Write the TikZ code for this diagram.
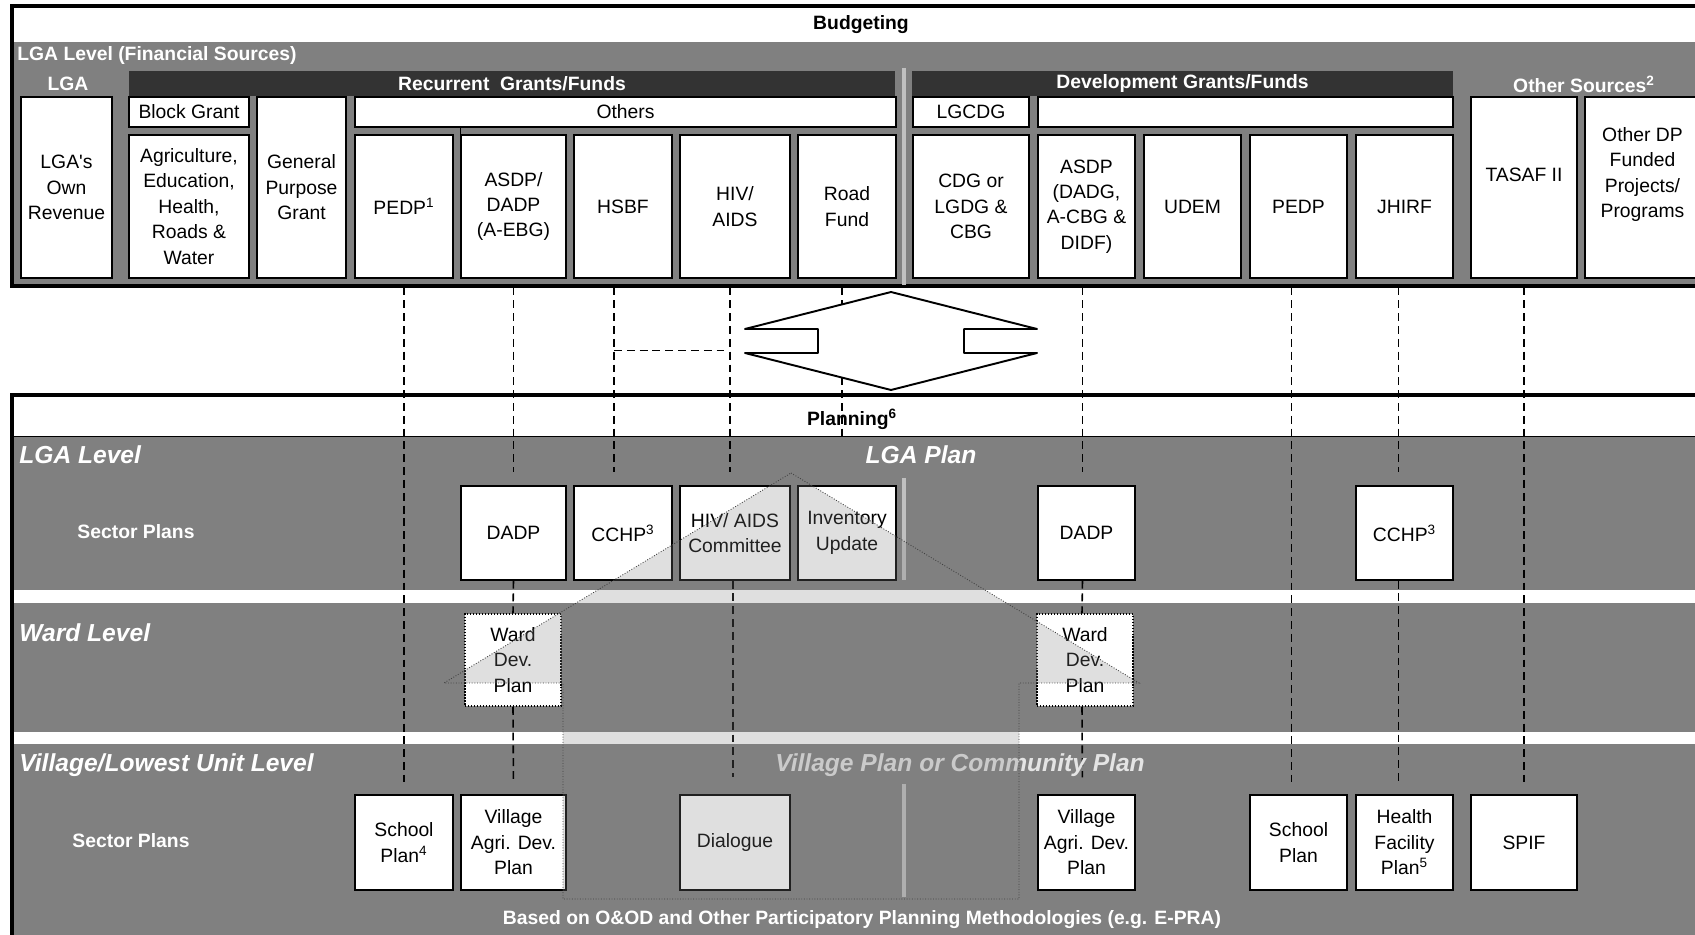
\documentclass[tikz,border=0pt]{standalone}
\usepackage{fontspec}
\setmainfont{Liberation Sans}
\usetikzlibrary{calc}

\definecolor{bandgray}{HTML}{808080}
\definecolor{bargray}{HTML}{333333}
\definecolor{sepgray}{HTML}{C0C0C0}
\definecolor{plangray}{HTML}{E4E4E4}

\pgfdeclarelayer{bg}
\pgfdeclarelayer{links}
\pgfsetlayers{bg,links,main}

\begin{document}
\begin{tikzpicture}[
    x=0.02cm, y=-0.02cm,
    % styles (pixel grid of the original chart)
    corners/.style args={#1/#2/#3/#4}{at={({(#1+#3)/2},{(#2+#4)/2})},
        minimum width={(#3-#1)*0.02cm}, minimum height={(#4-#2)*0.02cm}},
    frame_box/.style={draw, line width=1.8pt, inner sep=0pt},
    band/.style={fill=bandgray, inner sep=0pt},
    bar/.style={fill=bargray, inner sep=0pt, font=\fontsize{11}{13}\selectfont\bfseries, text=white},
    fund_box/.style={draw, line width=0.7pt, fill=white, inner sep=0pt, align=center, font=\fontsize{11}{14.5}\selectfont},
    ward_box/.style={fund_box, densely dotted, line width=1pt},
    box_txt/.style={inner sep=0pt, align=center, font=\fontsize{11}{14.5}\selectfont},
    hdr_lbl/.style={font=\fontsize{11}{13}\selectfont\bfseries, text=white, inner sep=0pt},
    lvl_lbl/.style={font=\fontsize{14}{16}\selectfont\bfseries\itshape, text=white, inner sep=0pt},
    link/.style={dash pattern=on 4.5pt off 2.8pt, line width=0.9pt},
    sep_line/.style={draw=sepgray, line width=2pt}
]
    \useasboundingbox (0,0) rectangle (1695,935);
    \clip (0,0) rectangle (1695,935);

    % --- Budgeting block ---
    \begin{pgfonlayer}{bg}
    \fill[white] (0,0) rectangle (1695,935);
    \node[band, corners=12/42/1720/286] (finband) {};
    \node[frame_box, corners=12/6/1720/286] (budget) {};
    \end{pgfonlayer}

    \node[hdr_lbl, text=black] (budgeting) at (861,25) {Budgeting};
    \node[hdr_lbl, anchor=west] (lgafin) at (17,56) {LGA Level (Financial Sources)};
    \node[hdr_lbl] (lgahdr) at (68,84) {LGA};
    \node[hdr_lbl] (othersrc) at (1584,84) {Other Sources\textsuperscript{2}};
    \node[bar, corners=129/71/895/96] (recbar) {Recurrent\ \ Grants/Funds};
    \node[bar, corners=912/71/1453/96] (devbar) {Development Grants/Funds};

    % --- Funding sources ---
    \node[fund_box, corners=21/97/112/278] (lgarev) {LGA\textquotesingle s\\Own\\Revenue};
    \node[fund_box, corners=129/97/249/127] (block) {Block Grant};
    \node[fund_box, corners=129/135/249/278] (sector) {Agriculture,\\Education,\\Health,\\Roads \&\\Water};
    \node[fund_box, corners=257/97/346/278] (gpg) {General\\Purpose\\Grant};
    \node[fund_box, corners=355/97/896/127] (others) {Others};
    \node[fund_box, corners=355/135/453/278] (pedpA) {PEDP\textsuperscript{1}};
    \node[fund_box, corners=461/135/566/278] (asdpA) {ASDP/\\DADP\\(A-EBG)};
    \node[fund_box, corners=574/135/672/278] (hsbf) {HSBF};
    \node[fund_box, corners=680/135/790/278] (hivA) {HIV/\\AIDS};
    \node[fund_box, corners=798/135/896/278] (road) {Road\\Fund};
    \node[fund_box, corners=913/97/1029/127] (lgcdg) {LGCDG};
    \node[fund_box, corners=1038/97/1453/127] (devother) {};
    \node[fund_box, corners=913/135/1029/278] (cdg) {CDG or\\LGDG \&\\CBG};
    \node[fund_box, corners=1038/135/1135/278] (asdpB) {ASDP\\(DADG,\\A-CBG \&\\DIDF)};
    \node[fund_box, corners=1144/135/1241/278] (udem) {UDEM};
    \node[fund_box, corners=1250/135/1347/278] (pedpB) {PEDP};
    \node[fund_box, corners=1356/135/1453/278] (jhirf) {JHIRF};
    \node[fund_box, corners=1471/97/1577/278, label={[box_txt, yshift=0.26cm]center:TASAF II}] (tasaf) {};
    \node[fund_box, corners=1585/97/1700/278, label={[box_txt, yshift=0.26cm]center:Other DP\\Funded\\Projects/\\Programs}] (otherdp) {};
    \draw[line width=0.7pt] (asdpA.north west) -- (asdpA.north west |- others.south);
    \draw[sep_line] (904,68) -- (904,285);

    % --- Planning block ---
    \begin{pgfonlayer}{bg}
    \node[band, corners=12/437/1720/590] (lgaband) {};
    \node[band, corners=12/603/1720/732] (wardband) {};
    \node[band, corners=12/744/1720/980] (villband) {};
    \draw[line width=0.7pt] (lgaband.north west) -- (lgaband.north east);
    \node[frame_box, corners=12/395/1720/980] (planning) {};
    \end{pgfonlayer}

    \node[hdr_lbl, text=black] (plantitle) at (852,419) {Planning\textsuperscript{6}};
    \node[lvl_lbl, anchor=west] (lgalvl) at (19,455) {LGA Level};
    \node[lvl_lbl] (lgaplan) at (921,455) {LGA Plan};
    \node[hdr_lbl] (secA) at (136,532) {Sector Plans};
    \node[lvl_lbl, anchor=west] (wardlvl) at (19,633) {Ward Level};
    \node[lvl_lbl, anchor=west] (villlvl) at (19,765) {Village/Lowest Unit Level};
    \node[lvl_lbl, text=plangray] (villplan) at (960,765) {Village Plan or Community Plan};
    \node[hdr_lbl] (secB) at (131,841) {Sector Plans};
    \node[hdr_lbl] (basis) at (862,920) {Based on O\&OD and Other Participatory Planning Methodologies (e.g. E-PRA)};

    % LGA level plans
    \node[fund_box, corners=461/486/566/580] (dadpA) {DADP};
    \node[fund_box, corners=574/486/672/580] (cchpA) {CCHP\textsuperscript{3}};
    \node[fund_box, corners=680/486/790/580] (hivB) {HIV/ AIDS\\Committee};
    \node[fund_box, corners=798/486/896/580] (invent) {Inventory\\Update};
    \node[fund_box, corners=1038/486/1135/580] (dadpB) {DADP};
    \node[fund_box, corners=1356/486/1453/580] (cchpB) {CCHP\textsuperscript{3}};

    % ward level plans
    \node[ward_box, corners=465/614/561/706] (wardA) {Ward\\Dev.\\Plan};
    \node[ward_box, corners=1037/614/1133/706] (wardB) {Ward\\Dev.\\Plan};

    % village level plans
    \node[fund_box, corners=355/795/453/890] (schoolA) {School\\Plan\textsuperscript{4}};
    \node[fund_box, corners=461/795/566/890] (vagriA) {Village\\Agri. Dev.\\Plan};
    \node[fund_box, corners=680/795/790/890] (dialogue) {Dialogue};
    \node[fund_box, corners=1038/795/1135/890] (vagriB) {Village\\Agri. Dev.\\Plan};
    \node[fund_box, corners=1250/795/1347/890] (schoolB) {School\\Plan};
    \node[fund_box, corners=1356/795/1453/890] (health) {Health\\Facility\\Plan\textsuperscript{5}};
    \node[fund_box, corners=1471/795/1577/890] (spif) {SPIF};

    \draw[sep_line] (904,478) -- (904,580);
    \draw[sep_line] (904,784) -- (904,897);

    % --- Dashed links from funds to plans ---
    \begin{pgfonlayer}{links}
    \draw[link, shorten >=0.24cm] (budget.south -| pedpA) -- (schoolA.north);
    \draw[link, shorten >=0.26cm] (budget.south -| asdpA) -- (dadpA.north);
    \draw[link] (dadpA.south) -- (wardA.north);
    \draw[link, shorten >=0.24cm] (wardA.south) -- (vagriA.north);
    \draw[link, shorten >=0.26cm] ($(budget.south -| hsbf)+(-9,0)$) -- ($(cchpA.north)+(-9,0)$);
    \coordinate (brA) at ($(budget.south -| hsbf)+(-9,63)$);
    \draw[link] (brA) -- ($(brA -| hivA)+(-11,0)$);
    \draw[link, shorten >=0.26cm] ($(budget.south -| hivA)+(-5,0)$) -- ($(hivB.north)+(-5,0)$);
    \draw[link, shorten >=0.34cm] ($(hivB.south)+(-2,0)$) -- ($(dialogue.north)+(-2,0)$);
    \draw[link] ($(budget.south -| road)+(-5,0)$) -- ($(road |- lgaband.north)+(-5,0)$);
    \draw[link, shorten >=0.26cm] ($(budget.south -| asdpB)+(-4,0)$) -- ($(dadpB.north)+(-4,0)$);
    \draw[link] ($(dadpB.south)+(-4,0)$) -- ($(wardB.north)+(-3,0)$);
    \draw[link, shorten >=0.34cm] ($(wardB.south)+(-3,0)$) -- ($(vagriB.north)+(-4,0)$);
    \draw[link, shorten >=0.24cm] ($(budget.south -| pedpB)+(-7,0)$) -- ($(schoolB.north)+(-7,0)$);
    \draw[link, shorten >=0.26cm] ($(budget.south -| jhirf)+(-6,0)$) -- ($(cchpB.north)+(-6,0)$);
    \draw[link, shorten >=0.24cm] ($(cchpB.south)+(-6,0)$) -- ($(health.north)+(-6,0)$);
    \draw[link, shorten >=0.24cm] (budget.south -| tasaf) -- (spif.north);
    \end{pgfonlayer}

    % two-way arrow between budgeting and planning
    \draw[fill=white, line width=1.1pt, line join=round] (891,292) -- (1037,329) -- (964,329) -- (964,353) -- (1037,353) -- (891,390)
        -- (745,353) -- (818,353) -- (818,329) -- (745,329) -- cycle;

    % shaded upward arrow (bottom-up planning)
    \draw[densely dotted, line width=0.5pt, draw=black!75, fill=bandgray, fill opacity=0.25]
        (791,473) -- (1139,683) -- (1019,683) -- (1019,899) -- (563,899) -- (563,683) -- (444,683) -- cycle;

\end{tikzpicture}
\end{document}
